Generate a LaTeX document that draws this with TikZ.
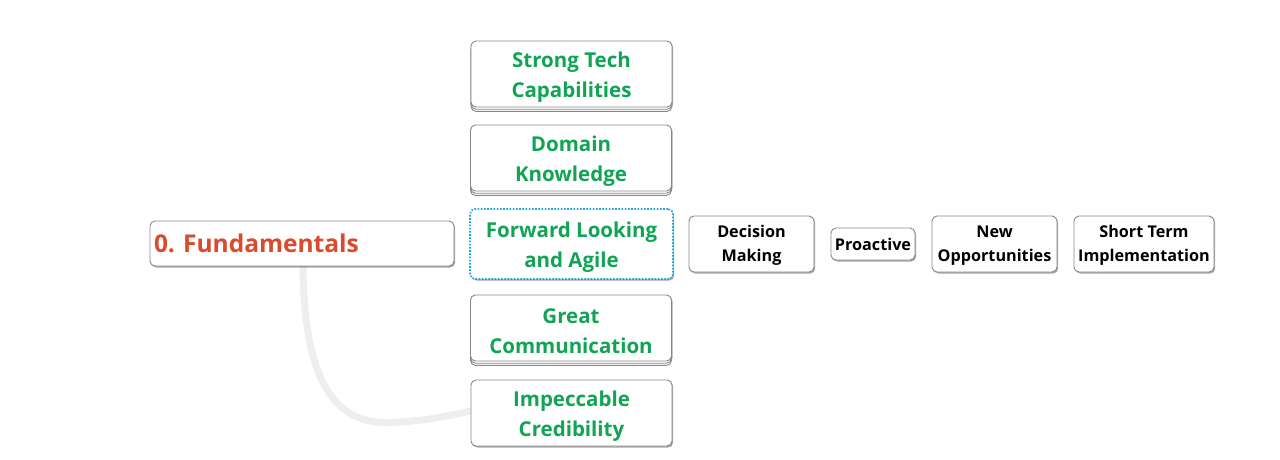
\documentclass[tikz,border=0pt]{standalone}
\usepackage{fontspec}
\setmainfont{Open Sans}
\usetikzlibrary{shadows,calc}
\frenchspacing
\definecolor{tgreen}{RGB}{16,164,84}
\definecolor{tred}{RGB}{218,74,44}
\definecolor{tblue}{RGB}{27,163,214}
\definecolor{tborder}{RGB}{135,135,135}
\definecolor{tcurve}{RGB}{238,238,238}
\newcommand\gstrut{\rule{0pt}{21.5pt}}
\newcommand\kstrut{\rule{0pt}{15.3pt}}
\tikzset{
  box/.style={draw=tborder, line width=0.9pt, rounded corners=5pt, fill=white, align=center,
    inner sep=0pt, drop shadow={shadow xshift=1.2pt, shadow yshift=-1.5pt, opacity=0.35, fill=black}},
  gbox/.style={box, text=tgreen, font=\bfseries\fontsize{20.5}{29.5}\selectfont,
    minimum width=201pt, minimum height=66pt},
  stacked/.style={double copy shadow={shadow xshift=0pt, shadow yshift=-2.2pt, draw=tborder, fill=white}},
  kbox/.style={box, text=black, font=\bfseries\fontsize{16.2}{24}\selectfont, minimum height=56pt},
  selbox/.style={draw=tblue, line width=1.6pt, dash pattern=on 1.6pt off 1.6pt, rounded corners=5pt,
    fill=white, align=center, inner sep=0pt, text=tgreen, font=\bfseries\fontsize{20.5}{29.5}\selectfont,
    minimum width=203pt, minimum height=70pt,
    drop shadow={shadow xshift=1.2pt, shadow yshift=-1.5pt, opacity=0.35, fill=black}},
  curve/.style={draw=tcurve, line width=7pt}
}
\begin{document}
\begin{tikzpicture}[x=1pt,y=-1pt]
\useasboundingbox (0,0) rectangle (1280,459);
% curve behind
\coordinate (cs) at (303,262);
\coordinate (ce) at (474,410);
\draw[curve] (cs) .. controls (303,420) and (360,425) .. (400,422) .. controls (430,420) and (455,415) .. (ce);
\node[box, text=tred, font=\bfseries\fontsize{24.5}{30}\selectfont, minimum width=304pt, minimum height=45pt,
  text width=296pt, align=left] (fund) at (302,243.5) {0. Fundamentals};
\node[gbox, stacked] (stc) at (571.5,74) {\gstrut Strong Tech\\Capabilities};
\node[gbox, stacked] (dk) at (571,158) {\gstrut Domain\\Knowledge};
\node[selbox] (fla) at (571.5,244) {\gstrut Forward Looking\\and Agile};
\node[gbox, stacked] (gc) at (571,328) {\gstrut Great\\Communication};
\node[gbox] (ic) at (571.5,413) {\gstrut Impeccable\\Credibility};
\node[kbox, minimum width=125pt] (dm) at (751.5,244) {\kstrut Decision\\Making};
\node[kbox, minimum width=84pt, minimum height=32pt] (pa) at (873,244) {Proactive};
\node[kbox, minimum width=125pt] (no) at (994.5,244) {\kstrut New\\Opportunities};
\node[kbox, minimum width=140pt] (st) at (1144,244) {\kstrut Short Term\\Implementation};
\end{tikzpicture}
\end{document}
